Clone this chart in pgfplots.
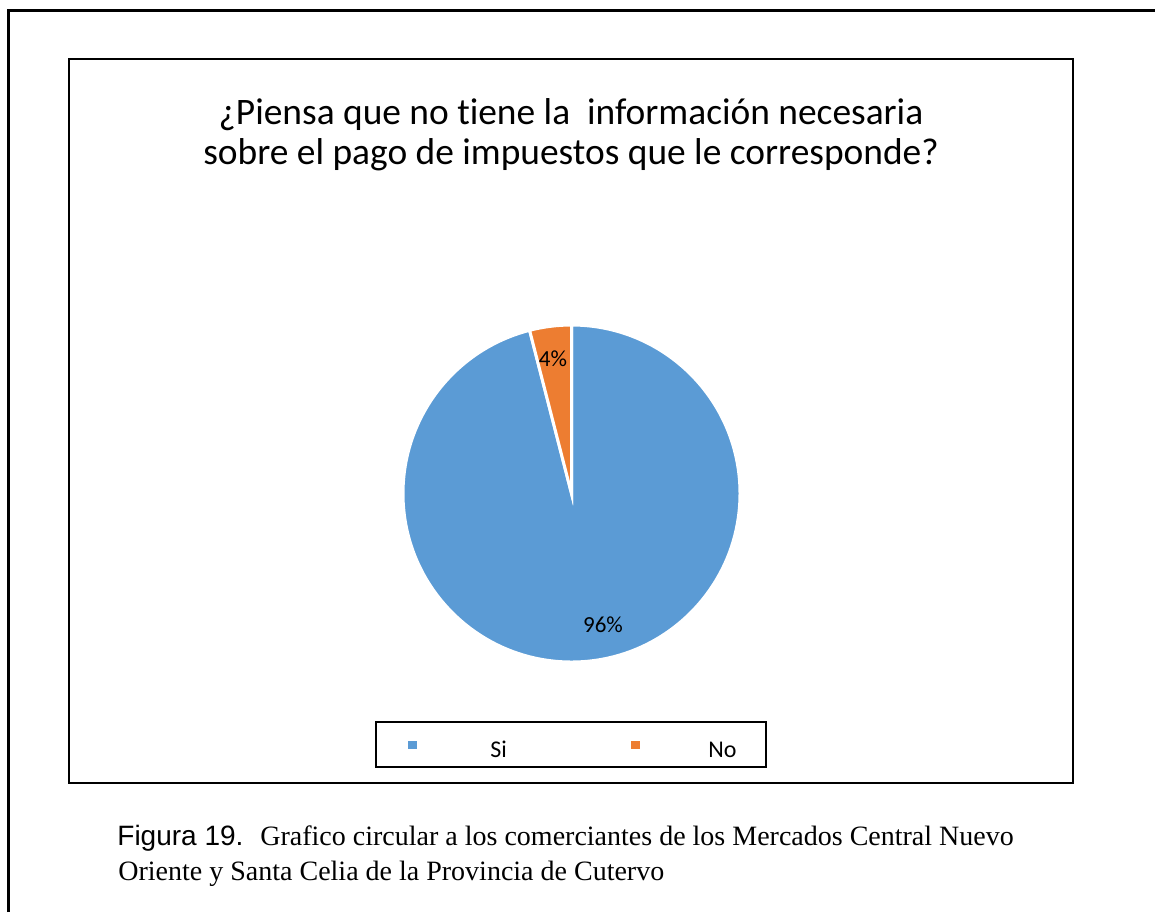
\documentclass[border=0pt]{standalone}
\usepackage{pgfplots}
\usepackage{pgfplotstable}
\pgfplotsset{compat=1.18}
\usepackage{fontspec}
\setmainfont{Carlito}[Ligatures=NoCommon]
\newfontfamily\arialf{Liberation Sans}
\newfontfamily\timesf{Liberation Serif}
\definecolor{siblue}{HTML}{5B9BD5}
\definecolor{noorange}{HTML}{ED7D31}

\pgfplotstableread{
label value
Si 96
No 4
}\piedata
\pgfplotstablegetelem{0}{value}\of\piedata \let\vSi\pgfplotsretval
\pgfplotstablegetelem{1}{value}\of\piedata \let\vNo\pgfplotsretval
\pgfmathsetmacro\aSiEnd{90-\vSi*3.6}
\pgfmathsetmacro\aNoEnd{\aSiEnd-\vNo*3.6}

\begin{document}
\begin{tikzpicture}[x=0.5pt,y=-0.5pt]
\useasboundingbox (0,0) rectangle (1155,912);
% outer frame
\draw[line width=1.5pt] (8,912) -- (8,10) -- (1155,10);
% chart area
\draw[line width=1.2pt] (69,59) rectangle (1073,783);
% title
\node[anchor=base,inner sep=0pt,font=\fontsize{18.7pt}{20pt}\selectfont] at (571,124) {¿Piensa que no tiene la\ \ información necesaria};
\node[anchor=base,inner sep=0pt,font=\fontsize{18.7pt}{20pt}\selectfont] at (571,164) {sobre el pago de impuestos que le corresponde?};
\coordinate (pc) at (571.5,493.5);
\begin{axis}[at={(pc)},anchor=center,x=0.5pt,y=0.5pt,
  xmin=-170,xmax=170,ymin=-170,ymax=170,hide axis,clip=false]
\fill[siblue,draw=white,line width=1.5pt] (axis cs:0,0) -- ++(90:84.25pt) arc[start angle=90,end angle=\aSiEnd,radius=84.25pt] -- cycle;
\fill[noorange,draw=white,line width=1.5pt] (axis cs:0,0) -- ++(\aSiEnd:84.25pt) arc[start angle=\aSiEnd,end angle=\aNoEnd,radius=84.25pt] -- cycle;
\node[font=\fontsize{11.5pt}{13pt}\selectfont] at (axis cs:-18.5,134.5) {\vNo\%};
\node[font=\fontsize{11.5pt}{13pt}\selectfont] at (axis cs:31.5,-131.5) {\vSi\%};
\end{axis}
% legend
\draw[line width=1pt] (376,722) rectangle (766,767);
\fill[siblue] (408,741) rectangle (417,749);
\node[anchor=base west,inner sep=0pt,font=\fontsize{12pt}{13pt}\selectfont] at (490,757) {Si};
\fill[noorange] (631,741) rectangle (640,749);
\node[anchor=base west,inner sep=0pt,font=\fontsize{12pt}{13pt}\selectfont] at (708,757) {No};
% caption
\node[anchor=base west,inner sep=0pt,font=\arialf\fontsize{14pt}{15pt}\selectfont] at (117,845) {Figura 19.};
\node[anchor=base west,inner sep=0pt,font=\timesf\fontsize{14pt}{15pt}\selectfont] at (260,845) {Grafico circular a los comerciantes de los Mercados Central Nuevo};
\node[anchor=base west,inner sep=0pt,font=\timesf\fontsize{14pt}{15pt}\selectfont] at (118,880) {Oriente y Santa Celia de la Provincia de Cutervo};
\end{tikzpicture}
\end{document}
